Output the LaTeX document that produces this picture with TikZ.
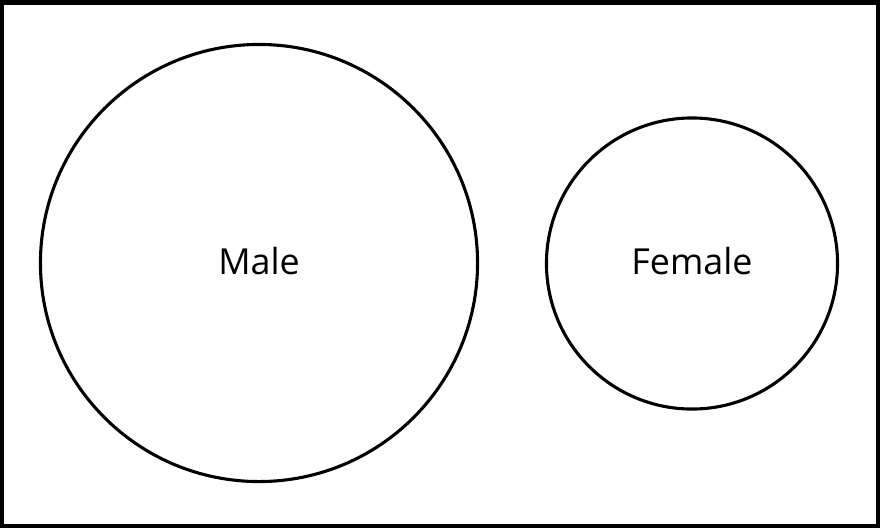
\documentclass[tikz,border=0pt]{standalone}
\usepackage{fontspec}
\setmainfont{Open Sans}
\begin{document}
\begin{tikzpicture}[x=0.025cm, y=-0.025cm, line width=2.2pt,
  every node/.style={font=\fontsize{25.5}{30}\selectfont},
  setring/.style={circle, draw, inner sep=0pt, text depth=0.12cm}]
  \useasboundingbox (0,0) rectangle (880,528);
  % universe box, then the two disjoint sets
  \draw[line width=3.2pt] (2.25,2.25) rectangle (877.75,525.75);
  \node[setring, minimum size=10.925cm] (male) at (259,263) {Male};
  \node[setring, minimum size=7.275cm] (female) at (692,263.5) {Female};
\end{tikzpicture}
\end{document}
